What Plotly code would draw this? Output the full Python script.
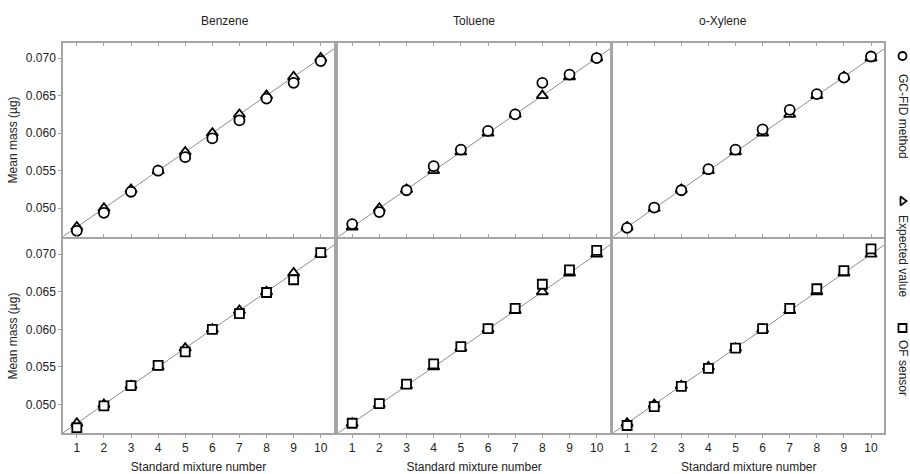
import numpy as np
import plotly.graph_objects as go

mixture = [1, 2, 3, 4, 5, 6, 7, 8, 9, 10]
compounds = ["Benzene", "Toluene", "o-Xylene"]

expected = {
    "Benzene":  [0.0475, 0.0500, 0.0525, 0.0550, 0.0575, 0.0600, 0.0625, 0.0650, 0.0675, 0.0700],
    "Toluene":  [0.0475, 0.0500, 0.0525, 0.0550, 0.0575, 0.0600, 0.0625, 0.0650, 0.0675, 0.0700],
    "o-Xylene": [0.0475, 0.0500, 0.0525, 0.0550, 0.0575, 0.0600, 0.0625, 0.0650, 0.0675, 0.0700],
}
gcfid = {
    "Benzene":  [0.0470, 0.0494, 0.0522, 0.0550, 0.0568, 0.0593, 0.0617, 0.0646, 0.0667, 0.0696],
    "Toluene":  [0.0479, 0.0495, 0.0524, 0.0556, 0.0578, 0.0603, 0.0625, 0.0667, 0.0678, 0.0700],
    "o-Xylene": [0.0474, 0.0501, 0.0524, 0.0552, 0.0578, 0.0605, 0.0631, 0.0652, 0.0674, 0.0702],
}
ofsensor = {
    "Benzene":  [0.0469, 0.0498, 0.0525, 0.0552, 0.0570, 0.0600, 0.0621, 0.0649, 0.0666, 0.0702],
    "Toluene":  [0.0475, 0.0501, 0.0527, 0.0554, 0.0577, 0.0601, 0.0628, 0.0660, 0.0679, 0.0705],
    "o-Xylene": [0.0472, 0.0497, 0.0524, 0.0548, 0.0575, 0.0601, 0.0628, 0.0654, 0.0678, 0.0707],
}
y_ticks = [0.050, 0.055, 0.060, 0.065, 0.070]
legend_labels = ["GC-FID method", "Expected value", "OF sensor"]

FONT = "Liberation Sans, Arial, sans-serif"
TXT = "#222222"
FRAME = "#a5a5a5"

fig = go.Figure()

ML, MR, MT, MB = 63, 3, 43, 41
W, H = 910, 474
PW = W - ML - MR
PH = H - MT - MB

xdom = [[0.0, 0.3211], [0.3262, 0.6481], [0.6520, 0.9731]]
ydom_top = [0.503, 1.0]
ydom_bot = [0.0, 0.497]

XR = [0.49, 10.49]
YR = [0.0462, 0.0720]

measured_sets = [gcfid, ofsensor]
meas_symbols = ["circle", "square"]
meas_sizes = [10, 9]

idx = 0
for row in range(2):
    for col, comp in enumerate(compounds):
        idx += 1
        xa = "x" if idx == 1 else f"x{idx}"
        ya = "y" if idx == 1 else f"y{idx}"
        coef = np.polyfit(mixture, expected[comp], 1)
        lx = np.array([0.0, 11.0])
        fig.add_trace(go.Scatter(x=lx, y=np.polyval(coef, lx), mode="lines",
                                 line=dict(color="#8c8c8c", width=1),
                                 xaxis=xa, yaxis=ya, showlegend=False, hoverinfo="skip"))
        fig.add_trace(go.Scatter(x=mixture, y=expected[comp], mode="markers",
                                 marker=dict(symbol="triangle-up", size=10, color="white",
                                             line=dict(color="black", width=1.8)),
                                 xaxis=xa, yaxis=ya, showlegend=False, cliponaxis=False))
        fig.add_trace(go.Scatter(x=mixture, y=measured_sets[row][comp], mode="markers",
                                 marker=dict(symbol=meas_symbols[row], size=meas_sizes[row], color="white",
                                             line=dict(color="black", width=1.8)),
                                 xaxis=xa, yaxis=ya, showlegend=False, cliponaxis=False))
        xkey = "xaxis" if idx == 1 else f"xaxis{idx}"
        ykey = "yaxis" if idx == 1 else f"yaxis{idx}"
        xaxis = dict(domain=xdom[col], range=XR, anchor=ya, tickvals=mixture,
                     showline=True, linecolor=FRAME, linewidth=1.5, mirror="allticks" if row == 0 else True,
                     ticks="inside" if row == 0 else "outside", ticklen=3, tickcolor=FRAME,
                     showticklabels=(row == 1), showgrid=False, zeroline=False,
                     tickfont=dict(family=FONT, size=12, color=TXT))
        if row == 1:
            xaxis["title"] = dict(text="Standard mixture number", font=dict(family=FONT, size=12, color=TXT),
                                  standoff=8)
        yaxis = dict(domain=ydom_top if row == 0 else ydom_bot, range=YR, anchor=xa,
                     tickvals=y_ticks, tickformat=".3f",
                     showline=True, linecolor=FRAME, linewidth=1.5, mirror=True,
                     ticks="outside" if col == 0 else "", ticklen=3, tickcolor=FRAME,
                     showticklabels=(col == 0), showgrid=False, zeroline=False,
                     tickfont=dict(family=FONT, size=12, color=TXT))
        if col == 0:
            yaxis["title"] = dict(text="Mean mass (µg)", font=dict(family=FONT, size=12, color=TXT),
                                  standoff=6)
        fig.layout[xkey] = xaxis
        fig.layout[ykey] = yaxis

annotations = []
for col, comp in enumerate(compounds):
    annotations.append(dict(text=comp, x=(xdom[col][0] + xdom[col][1]) / 2, y=1.0,
                            xref="paper", yref="paper", yanchor="bottom", yshift=13,
                            showarrow=False, font=dict(family=FONT, size=12, color=TXT)))

# custom rotated legend on a helper axis expressed in pixel coordinates
lx0 = ML + 0.976 * PW
lx1 = ML + PW
fig.layout["xaxis7"] = dict(domain=[0.976, 1.0], range=[lx0, lx1], visible=False, anchor="y7")
fig.layout["yaxis7"] = dict(domain=[0.0, 1.0], range=[MT + PH, MT], visible=False, anchor="x7")
leg_symbols = ["circle-open", "triangle-right-open", "square-open"]
leg_marker_y = [56, 201, 328]
leg_text_y = [116, 256, 368]
for sym, my, ty, lab in zip(leg_symbols, leg_marker_y, leg_text_y, legend_labels):
    fig.add_trace(go.Scatter(x=[902.5], y=[my], mode="markers", xaxis="x7", yaxis="y7",
                             marker=dict(symbol=sym, size=8, color="black", line=dict(width=1.8)),
                             showlegend=False, hoverinfo="skip", cliponaxis=False))
    annotations.append(dict(text=lab, x=903, y=ty, xref="x7", yref="y7", textangle=90,
                            showarrow=False, font=dict(family=FONT, size=12, color=TXT)))

fig.update_layout(width=W, height=H, margin=dict(l=ML, r=MR, t=MT, b=MB),
                  paper_bgcolor="white", plot_bgcolor="white", annotations=annotations,
                  showlegend=False)

fig.write_html("out.html", config={"displayModeBar": False},
               post_script="document.body.style.margin='0px';document.body.style.overflow='hidden';")
